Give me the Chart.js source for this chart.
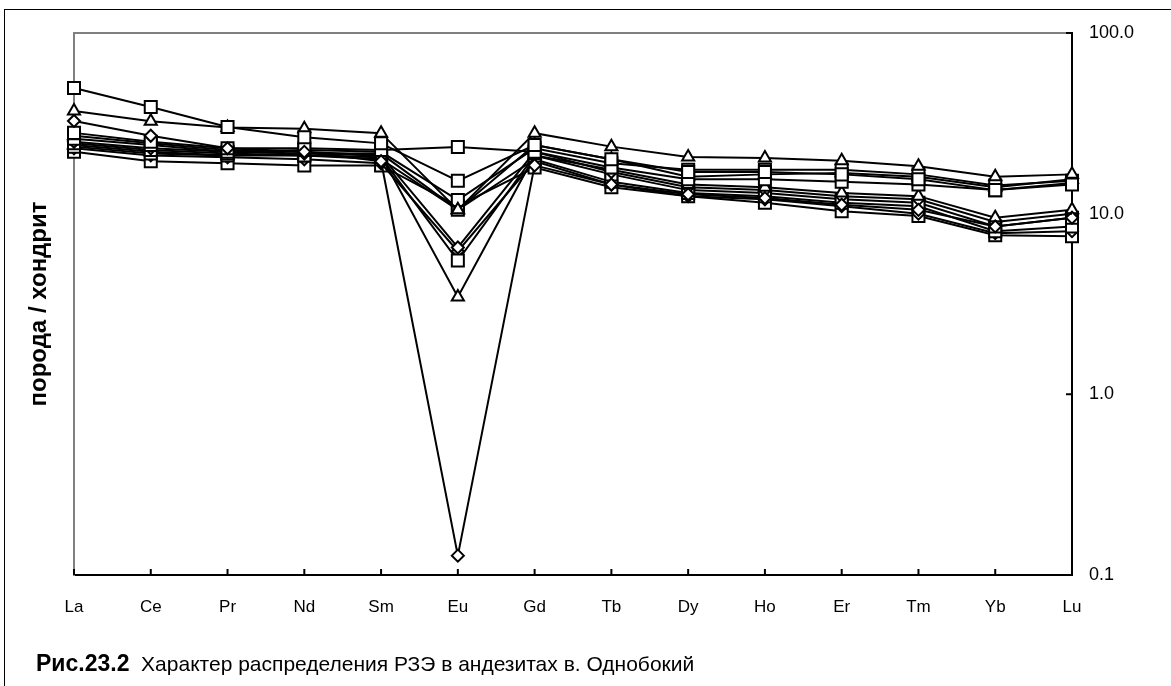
<!DOCTYPE html>
<html>
<head>
<meta charset="utf-8">
<script src="https://cdn.jsdelivr.net/npm/chart.js@4/dist/chart.umd.min.js"></script>
<style>
  html, body { margin: 0; padding: 0; background: #fff; overflow: hidden; }
  #wrap { position: relative; width: 1171px; height: 686px; }
  #frame { position: absolute; left: 4px; top: 9px; width: 1200px; height: 700px; border: 1.5px solid #000; box-sizing: border-box; pointer-events: none; }
  #caption { position: absolute; left: 36px; top: 649px; font-family: "Liberation Sans", Arial, sans-serif; font-size: 21px; line-height: 28px; color: #000; white-space: pre; }
  #caption b { font-size: 23px; }
  canvas { position: absolute; left: 0; top: 0; }
</style>
</head>
<body>
<div id="wrap">
  <canvas id="c" width="1171" height="686"></canvas>
  <div id="frame"></div>
  <div id="caption"><b>Рис.23.2</b>  Характер распределения РЗЭ в андезитах в. Однобокий</div>
</div>
<script>
// Categories (REE)
const elements = ["La","Ce","Pr","Nd","Sm","Eu","Gd","Tb","Dy","Ho","Er","Tm","Yb","Lu"];
// Y tick labels (log scale)
const yTicks = [0.1, 1, 10, 100];
const yTitle = "порода / хондрит";

// Series: rock / chondrite values
const s1  = [49.6, 38.9, 30.2, 26.5, 24.5, 15.2, 24.0, 20.0, 17.0, 17.0, 16.5, 15.5, 13.5, 14.5];
const s2  = [37.0, 32.5, 30.0, 29.5, 27.9, 10.5, 27.9, 23.5, 20.6, 20.3, 19.6, 18.3, 16.0, 16.5];
const s3  = [32.6, 27.0, 23.0, 22.0, 19.5, 0.128, 18.5, 14.5, 12.8, 12.2, 11.2, 10.5, 8.5, 9.5];
const s4  = [28.0, 25.0, 23.0, 23.0, 22.5, 23.4, 22.0, 18.0, 15.5, 15.5, 15.0, 14.5, 13.5, 14.8];
const s5  = [27.0, 24.5, 22.5, 22.0, 21.0, 3.46, 21.0, 17.5, 14.5, 14.0, 13.0, 12.5, 9.5, 10.5];
const s6  = [26.0, 24.0, 22.0, 22.5, 22.0, 11.9, 23.0, 19.0, 17.5, 17.5, 17.5, 16.5, 14.3, 15.2];
const s7  = [25.0, 23.0, 22.0, 21.5, 21.0, 6.5, 22.0, 17.0, 14.0, 13.5, 12.5, 12.0, 9.0, 10.0];
const s8  = [24.5, 22.5, 21.5, 21.0, 20.5, 5.5, 21.0, 16.5, 13.5, 13.0, 12.0, 11.5, 8.5, 9.5];
const s9  = [24.0, 22.0, 21.0, 21.5, 21.5, 10.5, 24.0, 20.0, 16.0, 16.5, 16.8, 16.0, 14.0, 15.5];
const s10 = [23.5, 21.5, 21.0, 21.0, 20.0, 10.5, 20.0, 15.0, 13.0, 12.5, 11.5, 11.0, 8.0, 8.5];
const s11 = [23.0, 21.0, 20.5, 20.0, 19.0, 6.2, 19.5, 14.5, 12.5, 12.0, 11.0, 10.0, 7.8, 8.0];
const s12 = [22.0, 19.5, 19.0, 18.5, 18.5, 11.0, 18.0, 14.0, 12.5, 11.5, 10.3, 9.7, 7.6, 7.5];

const seriesData = [s1, s2, s3, s4, s5, s6, s7, s8, s9, s10, s11, s12];
const seriesMarkers = ["rect","triangle","rectRot","rect","triangle","rect","rectRot","rect","triangle","rect","rectRot","rect"];

function radiusFor(m) { return m === "rect" ? 8.5 : (m === "triangle" ? 7 : 6); }

const datasets = seriesData.map((d, i) => ({
  label: "S" + (i + 1),
  data: d,
  borderColor: "#000",
  borderWidth: 2,
  pointStyle: seriesMarkers[i],
  pointRadius: radiusFor(seriesMarkers[i]),
  pointBackgroundColor: "#fff",
  pointBorderColor: "#000",
  pointBorderWidth: 2,
  tension: 0,
  fill: false,
  yAxisID: "y"
}));

const FONT = "'Liberation Sans', Arial, sans-serif";

const decoPlugin = {
  id: "deco",
  afterDatasetsDraw(chart) {
    const ctx = chart.ctx;
    const a = chart.chartArea;
    const xs = chart.scales.x, ys = chart.scales.y;
    ctx.save();
    // top border (gray)
    ctx.strokeStyle = "#808080";
    ctx.lineWidth = 2;
    ctx.beginPath();
    ctx.moveTo(a.left, a.top);
    ctx.lineTo(a.right, a.top);
    ctx.stroke();
    // inward tick marks
    ctx.strokeStyle = "#000";
    ctx.lineWidth = 2;
    ctx.beginPath();
    elements.forEach((e, i) => {
      const x = xs.getPixelForValue(i);
      ctx.moveTo(x, a.bottom);
      ctx.lineTo(x, a.bottom - 6);
    });
    yTicks.forEach(v => {
      const y = ys.getPixelForValue(v);
      ctx.moveTo(a.right, y);
      ctx.lineTo(a.right - 6, y);
    });
    ctx.stroke();
    ctx.restore();
  }
};

new Chart(document.getElementById("c"), {
  type: "line",
  data: { labels: elements, datasets },
  options: {
    responsive: false,
    animation: false,
    layout: { padding: { top: 33, left: 0, right: 0, bottom: 0 } },
    plugins: { legend: { display: false }, tooltip: { enabled: false }, title: { display: false } },
    scales: {
      x: {
        type: "category",
        offset: false,
        grid: { display: false, drawTicks: false },
        border: { display: true, color: "#000", width: 2 },
        ticks: { color: "#000", font: { family: FONT, size: 17 }, padding: 22, maxRotation: 0, autoSkip: false },
        afterFit(s) { s.height = 111; }
      },
      y: {
        type: "logarithmic",
        position: "right",
        min: 0.1,
        max: 100,
        grid: { display: false, drawTicks: false },
        border: { display: true, color: "#000", width: 2 },
        afterBuildTicks(s) { s.ticks = yTicks.map(v => ({ value: v })); },
        ticks: {
          color: "#000",
          font: { family: FONT, size: 18 },
          padding: 17,
          callback: (v) => Number(v).toFixed(1)
        },
        afterFit(s) { s.width = 99; }
      },
      yl: {
        type: "linear",
        position: "left",
        display: true,
        grid: { display: false, drawTicks: false },
        border: { display: true, color: "#808080", width: 2 },
        ticks: { display: false },
        title: {
          display: true,
          text: yTitle,
          color: "#000",
          font: { family: FONT, size: 24, weight: "bold" },
          padding: { top: 25, bottom: 0 }
        },
        afterFit(s) { s.width = 74; }
      }
    }
  },
  plugins: [decoPlugin]
});
</script>
</body>
</html>
